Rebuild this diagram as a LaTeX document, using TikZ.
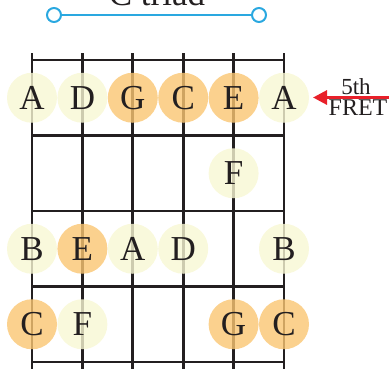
\documentclass[tikz,border=0pt]{standalone}
\usepackage{fontspec}
\setmainfont{Liberation Serif}
\usetikzlibrary{math,arrows.meta}
\definecolor{noteyellow}{HTML}{F8F7D3}
\definecolor{noteorange}{HTML}{FAC672}
\definecolor{triadblue}{HTML}{2AA8E0}
\definecolor{fretred}{HTML}{E8202A}
\definecolor{ink}{HTML}{231F20}
\begin{document}
\begin{tikzpicture}[x=1pt,y=-1pt,
    note/.style={circle,inner sep=0pt,minimum size=50pt,fill opacity=0.8,text opacity=1,text=ink,font=\fontsize{35}{35}\selectfont},
    tonic/.style={note,fill=noteorange},
    other/.style={note,fill=noteyellow},
    triadend/.style={circle,draw=triadblue,line width=2pt,fill=white,minimum size=14pt,inner sep=0pt}]
    \useasboundingbox (0,0) rectangle (389,368);
    \tikzmath{\dx = 50.4; \dy = 75.5;}

    % Title and the blue bar under it
    \node[anchor=base,text=ink,font=\fontsize{35}{35}\selectfont] (title) at (157,5) {C triad};
    \node[triadend] (barleft) at (54,15) {};
    \node[triadend] (barright) at (259,15) {};
    \draw[triadblue,line width=2pt] (barleft) -- (barright);

    % Strings and frets
    \foreach \i in {0,...,5}
        \draw[ink,line width=2.8pt] (32+\i*\dx,53) -- (32+\i*\dx,372);
    \foreach \j in {0,...,4}
        \draw[ink,line width=2.8pt] (32,60+\j*\dy) -- (284,60+\j*\dy);

    % Notes: string/row/name/style
    \foreach \s/\r/\n/\k in {1/1/A/other, 2/1/D/other, 3/1/G/tonic, 4/1/C/tonic, 5/1/E/tonic, 6/1/A/other,
                             5/2/F/other,
                             1/3/B/other, 2/3/E/tonic, 3/3/A/other, 4/3/D/other, 6/3/B/other,
                             1/4/C/tonic, 2/4/F/other, 5/4/G/tonic, 6/4/C/tonic}
        \node[\k] (n\r\s) at (32+\s*\dx-\dx,60+\r*\dy-0.5*\dy) {\n};

    % Fret marker
    \coordinate (arrowstart) at (392,97.5);
    \coordinate (arrowtip) at (313,97.5);
    \draw[fretred,line width=3pt,-{Triangle[length=14pt,width=14pt]}] (arrowstart) -- (arrowtip);
    \node[anchor=base,inner sep=1pt,text=ink,font=\fontsize{23}{23}\selectfont] (fifth) at (356,94) {5th};
    \node[anchor=base,inner sep=1pt,text=ink,font=\fontsize{24}{24}\selectfont] (fret) at (358,115) {FRET};
\end{tikzpicture}
\end{document}
